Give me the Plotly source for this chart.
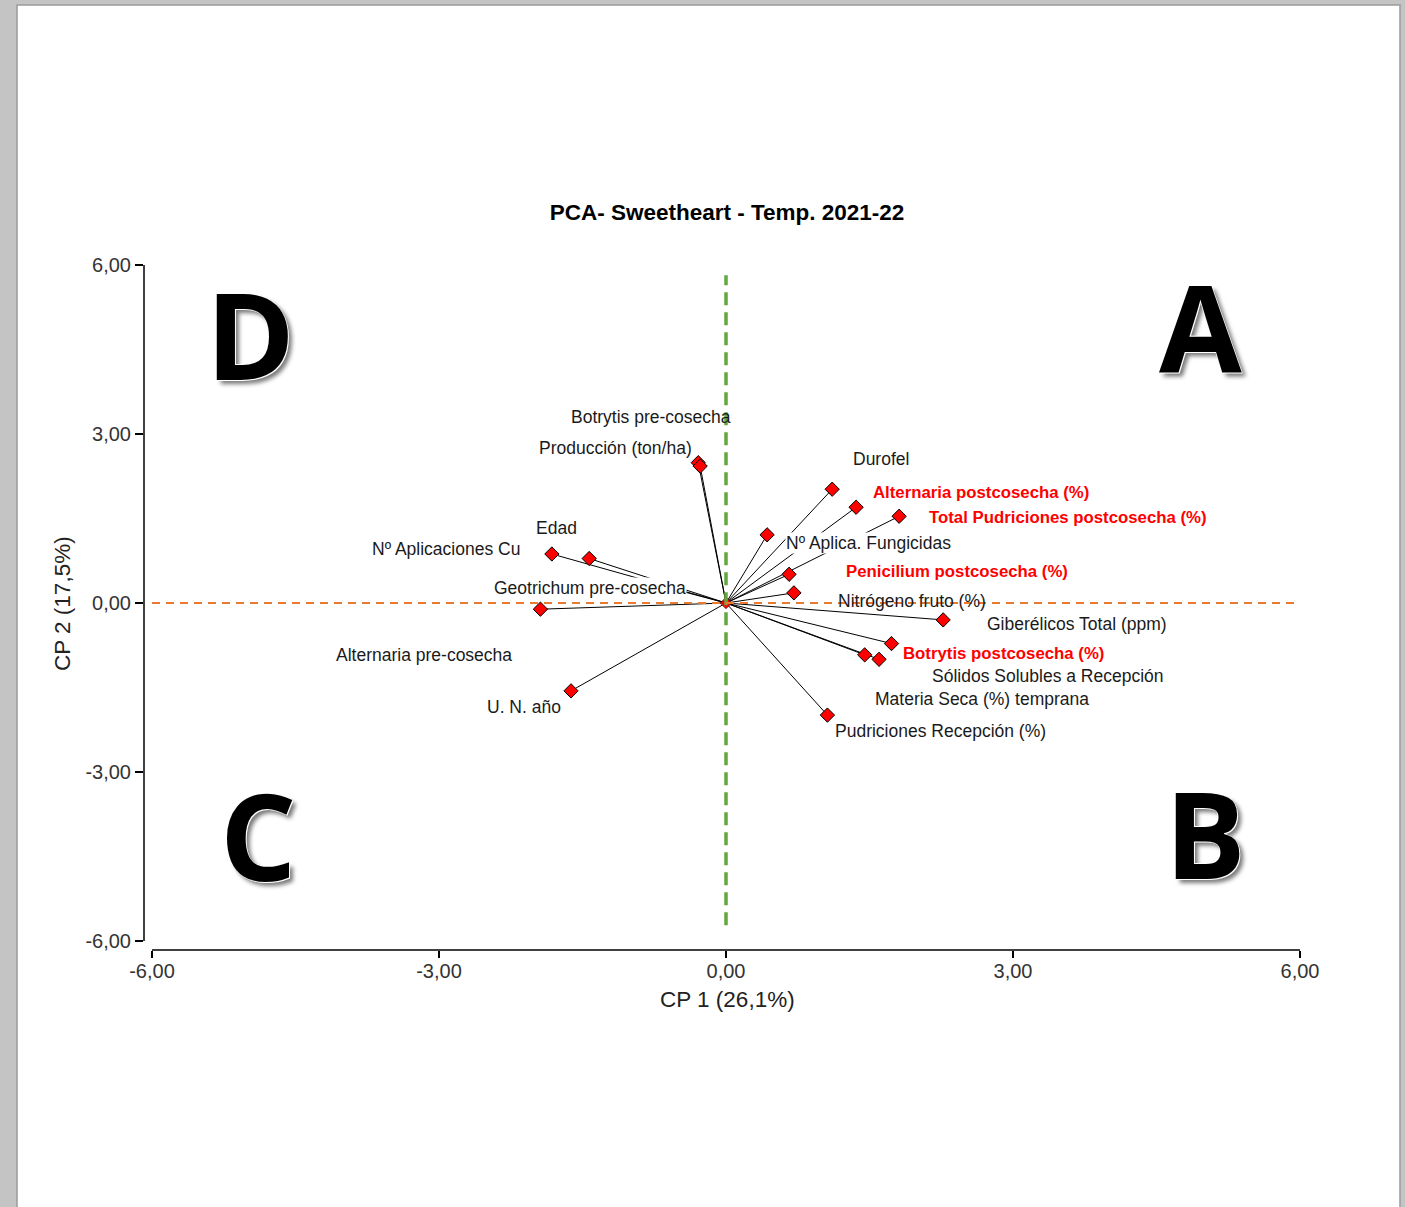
import plotly.graph_objects as go

# ---------------- data ----------------
variables = [
    "Botrytis pre-cosecha", "Producción (ton/ha)", "Edad", "Nº Aplicaciones Cu",
    "Geotrichum pre-cosecha", "Alternaria pre-cosecha", "U. N. año", "Durofel",
    "Alternaria postcosecha (%)", "Total Pudriciones postcosecha (%)",
    "Nº Aplica. Fungicidas", "Penicilium postcosecha (%)", "Nitrógeno fruto (%)",
    "Giberélicos Total (ppm)", "Botrytis postcosecha (%)",
    "Sólidos Solubles a Recepción", "Materia Seca (%) temprana",
    "Pudriciones Recepción (%)",
]
cp1 = [-0.29, -0.27, -1.43, -1.82, -0.60, -1.94, -1.62, 1.11, 1.36, 1.81,
       0.43, 0.66, 0.71, 2.27, 1.73, 1.60, 1.45, 1.06]
cp2 = [2.49, 2.43, 0.79, 0.87, 0.27, -0.11, -1.56, 2.02, 1.70, 1.54,
       1.21, 0.51, 0.18, -0.30, -0.72, -1.00, -0.92, -1.99]
highlighted = ["Alternaria postcosecha (%)", "Total Pudriciones postcosecha (%)",
               "Penicilium postcosecha (%)", "Botrytis postcosecha (%)"]

tick_vals = [-6, -3, 0, 3, 6]
tick_text = ["-6,00", "-3,00", "0,00", "3,00", "6,00"]
title_text = "PCA- Sweetheart - Temp. 2021-22"
x_title = "CP 1 (26,1%)"
y_title = "CP 2 (17,5%)"
quadrants = ["D", "A", "C", "B"]

# ---------------- styling / layout (pixel offsets for labels) ----------------
label_offsets = {
    "Botrytis pre-cosecha": (-47, -46), "Producción (ton/ha)": (-85, -18),
    "Edad": (-33, -31), "Nº Aplicaciones Cu": (-106, -5),
    "Geotrichum pre-cosecha": (-79, 0), "Alternaria pre-cosecha": (-116, 46),
    "U. N. año": (-47, 16), "Durofel": (49, -30),
    "Alternaria postcosecha (%)": (125, -15),
    "Total Pudriciones postcosecha (%)": (169, 1),
    "Nº Aplica. Fungicidas": (101, 8), "Penicilium postcosecha (%)": (168, -3),
    "Nitrógeno fruto (%)": (118, 8), "Giberélicos Total (ppm)": (134, 4),
    "Botrytis postcosecha (%)": (112, 10),
    "Sólidos Solubles a Recepción": (169, 17),
    "Materia Seca (%) temprana": (117, 44),
    "Pudriciones Recepción (%)": (113, 16),
}
bg_labels = ["Geotrichum pre-cosecha", "Nº Aplica. Fungicidas"]
quad_pos = {"D": (0.0917, 0.9007), "A": (0.9135, 0.9124),
            "C": (0.0986, 0.168), "B": (0.918, 0.172)}

W, H = 1405, 1207
ML, MR, MT, MB = 144, 105, 265, 257
FONT = "Liberation Sans, Arial, sans-serif"

fig = go.Figure()

# vectors from origin
lx, ly = [], []
for a, b in zip(cp1, cp2):
    lx += [0, a, None]
    ly += [0, b, None]
fig.add_trace(go.Scatter(x=lx, y=ly, mode="lines",
                         line=dict(color="black", width=1),
                         hoverinfo="skip", showlegend=False))
fig.add_trace(go.Scatter(x=cp1, y=cp2, mode="markers", text=variables,
                         marker=dict(symbol="diamond", size=11, color="#ff0000",
                                     line=dict(color="black", width=1)),
                         showlegend=False))
fig.add_trace(go.Scatter(x=[0], y=[0], mode="markers",
                         marker=dict(symbol="diamond", size=9, color="#ff0000",
                                     line=dict(color="black", width=0.5)),
                         showlegend=False))


def px2paper_x(px):
    return (px - ML) / (W - ML - MR)


def px2paper_y(py):
    return (H - MB - py) / (H - MT - MB)


shapes = [
    # white sheet on grey background
    dict(type="rect", xref="paper", yref="paper", layer="below",
         x0=px2paper_x(17), x1=px2paper_x(1400), y0=px2paper_y(1215), y1=px2paper_y(5),
         fillcolor="white", line=dict(color="#9a9a9a", width=1.5)),
    # reference lines
    dict(type="line", xref="x", yref="y", x0=0, x1=0, y0=-5.72, y1=5.82,
         line=dict(color="#63a83f", width=3.5, dash="13px,7px")),
    dict(type="line", xref="x", yref="y", x0=-6, x1=6.07, y0=0, y1=0,
         line=dict(color="#ea7a2e", width=1.8, dash="8px,6px")),
    # detached axis lines
    dict(type="line", xref="x", yref="paper", x0=-6, x1=6, y0=0, y1=0,
         line=dict(color="black", width=1.5)),
    dict(type="line", xref="paper", yref="y", x0=0, x1=0, y0=-6, y1=6,
         line=dict(color="black", width=1.5)),
]

annotations = []
for name, a, b in zip(variables, cp1, cp2):
    dx, dy = label_offsets[name]
    red = name in highlighted
    ann = dict(x=a, y=b, xref="x", yref="y", text=name, showarrow=False,
               xanchor="center", yanchor="middle", xshift=dx, yshift=-dy,
               font=dict(family=FONT, size=16.8 if red else 17.5,
                         color="#ff0000" if red else "#1a1a1a",
                         weight="bold" if red else "normal"))
    if name in bg_labels:
        ann["bgcolor"] = "white"
        ann["borderpad"] = 0
    annotations.append(ann)

for q in quadrants:
    qx, qy = quad_pos[q]
    annotations.append(dict(
        x=qx, y=qy, xref="paper", yref="paper", text=q, showarrow=False,
        xanchor="center", yanchor="middle",
        font=dict(family="Open Sans, sans-serif", size=120, color="black",
                  weight="bold",
                  shadow="1px 1px 0px #ffffff, -1px -1px 0px #ffffff, 4px 4px 4px #7a7a7a")))

annotations.append(dict(x=px2paper_x(727), y=px2paper_y(1000), xref="paper", yref="paper",
                        text=x_title, showarrow=False, xanchor="center",
                        yanchor="middle",
                        font=dict(family=FONT, size=22.5, color="#222222")))
annotations.append(dict(x=px2paper_x(62), y=px2paper_y(604), xref="paper", yref="paper",
                        text=y_title, showarrow=False, textangle=-90,
                        xanchor="center", yanchor="middle",
                        font=dict(family=FONT, size=22.5, color="#222222")))

fig.update_layout(
    width=W, height=H,
    margin=dict(l=ML, r=MR, t=MT, b=MB),
    paper_bgcolor="#c4c4c4",
    plot_bgcolor="rgba(0,0,0,0)",
    title=dict(text="<b>" + title_text + "</b>", x=px2paper_x(727), xref="paper",
               xanchor="center", y=1 - 212 / H, yref="container", yanchor="middle",
               font=dict(family=FONT, size=22.5, color="black")),
    shapes=shapes,
    annotations=annotations,
    xaxis=dict(range=[-6 - 8 / 95.67, 6], showgrid=False, zeroline=False,
               showline=False, tickvals=tick_vals, ticktext=tick_text,
               ticks="outside", ticklen=7, tickwidth=1.5, tickcolor="black",
               ticklabelstandoff=-4,
               tickfont=dict(family=FONT, size=20, color="#333333")),
    yaxis=dict(range=[-6 - 9 / 56.33, 6], showgrid=False, zeroline=False,
               showline=False, tickvals=tick_vals, ticktext=tick_text,
               ticks="outside", ticklen=8, tickwidth=1.5, tickcolor="black",
               tickfont=dict(family=FONT, size=20, color="#333333")),
    showlegend=False,
)

fig.write_html(
    "out.html",
    config={"displayModeBar": False},
    post_script="document.body.style.margin='0px';document.body.style.overflow='hidden';",
)
